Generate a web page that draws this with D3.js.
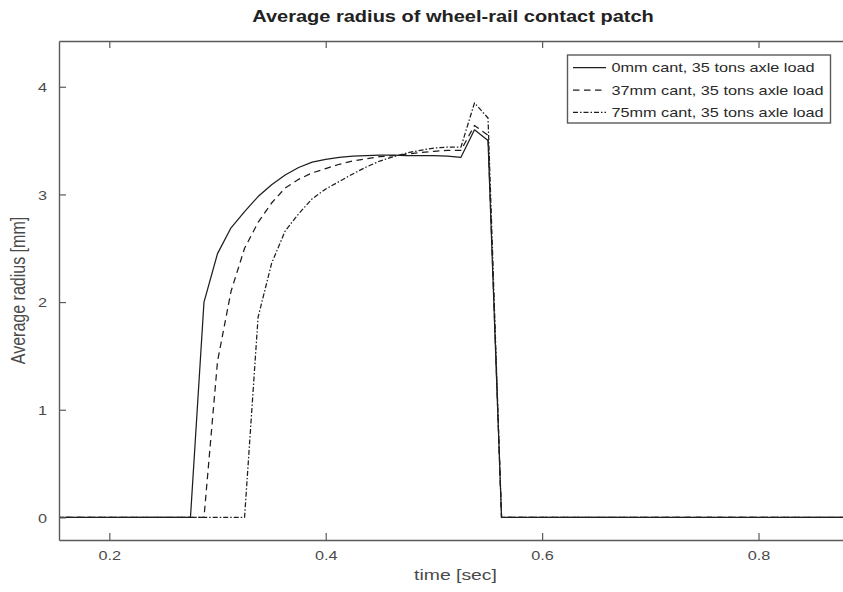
<!DOCTYPE html>
<html>
<head>
<meta charset="utf-8">
<script src="https://cdn.jsdelivr.net/npm/d3@7"></script>
<style>
  html, body { margin: 0; padding: 0; background: #fff; overflow: hidden; }
  text { font-family: "Liberation Sans", Arial, Helvetica, sans-serif; }
</style>
</head>
<body>
<svg id="chart" width="843" height="592"></svg>
<script>
// Simulation output: average contact-patch radius [mm] against time [sec]
const time   = [0.15, 0.275, 0.2875, 0.3, 0.3125, 0.325, 0.3375, 0.35, 0.3625, 0.375, 0.3875, 0.4, 0.4125,
                0.425, 0.4375, 0.45, 0.4625, 0.475, 0.4875, 0.5, 0.5125, 0.525, 0.5375, 0.55, 0.5625, 0.9];
const cant0  = [0, 0, 2.0, 2.45, 2.69, 2.84, 2.98, 3.09, 3.18, 3.25, 3.30, 3.325, 3.345,
                3.355, 3.36, 3.365, 3.365, 3.36, 3.36, 3.36, 3.355, 3.345, 3.60, 3.50, 0, 0];
const cant37 = [0, 0, 0, 1.45, 2.1, 2.50, 2.74, 2.92, 3.06, 3.14, 3.20, 3.24, 3.28,
                3.31, 3.33, 3.35, 3.36, 3.375, 3.39, 3.40, 3.41, 3.41, 3.64, 3.55, 0, 0];
const cant75 = [0, 0, 0, 0, 0, 0, 1.86, 2.36, 2.66, 2.82, 2.96, 3.05, 3.12,
                3.19, 3.255, 3.31, 3.35, 3.385, 3.41, 3.43, 3.44, 3.44, 3.85, 3.71, 0, 0];
const seriesNames = ["0mm cant, 35 tons axle load", "37mm cant, 35 tons axle load", "75mm cant, 35 tons axle load"];
const xTicks = [0.2, 0.4, 0.6, 0.8];
const yTicks = [0, 1, 2, 3, 4];
const xDomain = [0.1535, 0.8827];
const yDomain = [-0.21, 4.425];

// styling
const dashStyles = [null, "6.5,4.5", "5,2,1.5,2"];
const lineColor = "#1e1e1e";
const axisColor = "#5a5a5a";
const labelColor = "#4a4a4a";
const stretch = 1.25;  // horizontal glyph stretch of the exported figure

const svg = d3.select("#chart");
const W = 843, H = 592;
const box = { left: 59, right: 848, top: 41, bottom: 540 };

const x = d3.scaleLinear().domain(xDomain).range([box.left, box.right]);
const y = d3.scaleLinear().domain(yDomain).range([box.bottom, box.top]);

svg.append("rect").attr("width", W).attr("height", H).attr("fill", "#fff");

svg.append("defs").append("clipPath").attr("id", "plotClip")
  .append("rect")
  .attr("x", box.left).attr("y", box.top)
  .attr("width", box.right - box.left).attr("height", box.bottom - box.top);

// series
const series = [cant0, cant37, cant75].map((vals, i) => ({
  name: seriesNames[i],
  dash: dashStyles[i],
  points: time.map((t, j) => [t, vals[j]])
}));

const line = d3.line().x(d => x(d[0])).y(d => y(d[1]));

const gLines = svg.append("g").attr("clip-path", "url(#plotClip)");
gLines.selectAll("path").data(series.slice().reverse()).join("path")
  .attr("d", d => line(d.points))
  .attr("fill", "none")
  .attr("stroke", lineColor)
  .attr("stroke-width", 1.25)
  .attr("stroke-linejoin", "round")
  .attr("stroke-dasharray", d => d.dash);

// axes
const fmt = d3.format(".1f");
const xAxisB = svg.append("g").attr("transform", `translate(0,${box.bottom})`)
  .call(d3.axisBottom(x).tickValues(xTicks).tickSizeInner(-7).tickSizeOuter(0).tickFormat(fmt));
const xAxisT = svg.append("g").attr("transform", `translate(0,${box.top})`)
  .call(d3.axisTop(x).tickValues(xTicks).tickSizeInner(-7).tickSizeOuter(0).tickFormat(""));
const yAxisL = svg.append("g").attr("transform", `translate(${box.left},0)`)
  .call(d3.axisLeft(y).tickValues(yTicks).tickSizeInner(-7).tickSizeOuter(0).tickFormat(d3.format("d")));

[xAxisB, xAxisT, yAxisL].forEach(g => {
  g.select(".domain").attr("stroke", axisColor).attr("stroke-width", 1.4);
  g.selectAll(".tick line").attr("stroke", axisColor).attr("stroke-width", 1.2);
});

xAxisB.selectAll(".tick text")
  .attr("y", 20.5).attr("dy", null)
  .attr("fill", labelColor)
  .style("font-size", "13px")
  .attr("transform", `scale(${stretch},1)`);

yAxisL.selectAll(".tick text")
  .attr("x", -12 / stretch).attr("dy", "0.36em")
  .attr("fill", labelColor)
  .style("font-size", "13px")
  .attr("text-anchor", "end")
  .attr("transform", `scale(${stretch},1)`);

// title and axis labels
const midX = (box.left + box.right) / 2;
svg.append("text")
  .attr("transform", `translate(${midX - 0.5},21.7) scale(${stretch},1)`)
  .attr("text-anchor", "middle")
  .attr("fill", "#222")
  .style("font-size", "16px")
  .style("font-weight", "bold")
  .text("Average radius of wheel-rail contact patch");

svg.append("text")
  .attr("transform", `translate(${midX + 2},580) scale(${stretch},1)`)
  .attr("text-anchor", "middle")
  .attr("fill", labelColor)
  .style("font-size", "15.5px")
  .text("time [sec]");

svg.append("text")
  .attr("transform", `translate(25,${(box.top + box.bottom) / 2}) scale(${stretch},1) rotate(-90)`)
  .attr("text-anchor", "middle")
  .attr("fill", labelColor)
  .style("font-size", "16px")
  .text("Average radius [mm]");

// legend
const leg = { left: 567.5, top: 55, right: 830.5, bottom: 123, rowGap: 22.3 };
const gLeg = svg.append("g");
gLeg.append("rect")
  .attr("x", leg.left).attr("y", leg.top)
  .attr("width", leg.right - leg.left).attr("height", leg.bottom - leg.top)
  .attr("fill", "#fff").attr("stroke", axisColor).attr("stroke-width", 1.4);

const rows = gLeg.selectAll("g.row").data(series).join("g")
  .attr("class", "row")
  .attr("transform", (d, i) => `translate(0,${leg.top + 12.7 + i * leg.rowGap})`);
rows.append("line")
  .attr("x1", leg.left + 5.5).attr("x2", leg.left + 38.5)
  .attr("stroke", lineColor).attr("stroke-width", 1.25)
  .attr("stroke-dasharray", d => d.dash);
rows.append("text")
  .attr("transform", `translate(${leg.left + 44},4.6) scale(${stretch},1)`)
  .attr("fill", "#2a2a2a")
  .style("font-size", "13px")
  .text(d => d.name);
</script>
</body>
</html>
